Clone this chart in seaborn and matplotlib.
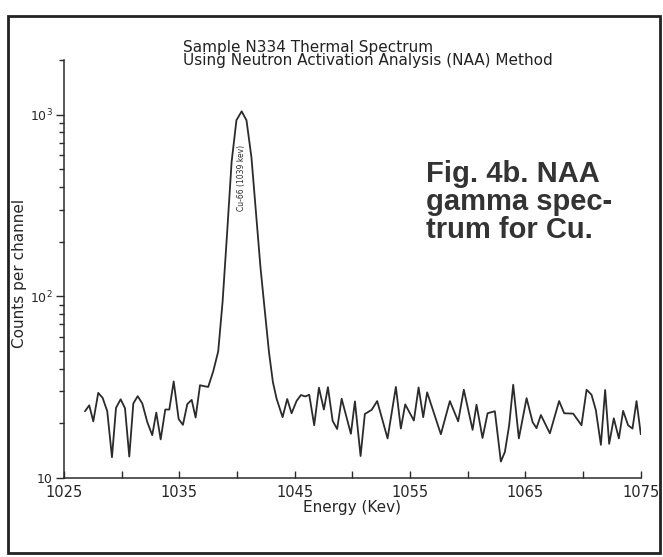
import matplotlib
matplotlib.use('Agg')
import matplotlib.pyplot as plt
import matplotlib.patches as patches
import seaborn as sns

# energy (keV) of each channel
energy = [1026.82, 1027.19, 1027.54, 1027.97, 1028.35, 1028.75, 1029.16, 1029.51, 1029.91, 1030.29,
          1030.66, 1031.01, 1031.39, 1031.79, 1032.22, 1032.65, 1033.00, 1033.38, 1033.78, 1034.13,
          1034.51, 1034.94, 1035.31, 1035.69, 1036.07, 1036.41, 1036.79, 1037.15, 1037.50, 1037.94,
          1038.37, 1038.75, 1039.13, 1039.53, 1039.95, 1040.40, 1040.82, 1041.25, 1041.64, 1042.03,
          1042.42, 1042.77, 1043.11, 1043.43, 1043.95, 1044.35, 1044.73, 1045.17, 1045.54, 1045.91,
          1046.26, 1046.69, 1047.10, 1047.53, 1047.88, 1048.29, 1048.68, 1049.07, 1049.87, 1050.22,
          1050.71, 1051.08, 1051.67, 1052.15, 1053.05, 1053.77, 1054.20, 1054.58, 1055.33, 1055.74,
          1056.14, 1056.48, 1057.67, 1058.45, 1059.17, 1059.66, 1060.42, 1060.76, 1061.28, 1061.72,
          1062.35, 1062.87, 1063.22, 1063.59, 1063.94, 1064.43, 1065.10, 1065.62, 1065.96, 1066.34,
          1067.12, 1067.92, 1068.36, 1069.14, 1069.86, 1070.30, 1070.73, 1071.10, 1071.54, 1071.91,
          1072.26, 1072.66, 1073.10, 1073.47, 1073.90, 1074.28, 1074.63, 1075.00]

counts = [23.3, 25.1, 20.5, 29.4, 27.6, 23.3, 13.0, 24.3, 27.1, 24.2,
          13.1, 25.7, 28.2, 25.7, 20.3, 17.2, 22.9, 16.3, 23.8, 23.8,
          34.0, 21.1, 19.6, 25.5, 26.9, 21.5, 32.4, 32.0, 31.7, 38.7,
          49.8, 93.6, 218, 550, 934, 1045, 933, 583, 291, 145,
          81.9, 49.3, 33.7, 27.3, 21.6, 27.2, 22.7, 26.6, 28.6, 28.1,
          28.7, 19.5, 31.4, 23.8, 31.6, 20.6, 18.6, 27.3, 17.5, 26.4,
          13.2, 22.5, 23.7, 26.5, 16.5, 31.7, 18.7, 25.4, 20.7, 31.5,
          21.6, 29.6, 17.4, 26.5, 20.5, 30.6, 18.4, 25.3, 16.6, 22.7,
          23.3, 12.3, 13.9, 19.5, 32.6, 16.5, 27.5, 20.3, 18.8, 22.2,
          17.6, 26.5, 22.7, 22.6, 19.5, 30.6, 28.7, 23.7, 15.2, 30.5,
          15.4, 21.3, 16.5, 23.4, 19.5, 18.7, 26.5, 17.4]

x_ticks = [1025, 1035, 1045, 1055, 1065, 1075]
x_minor = [1030, 1040, 1050, 1060, 1070]
y_ticks = [10, 100, 1000]
y_labels = ['10', '10$^2$', '10$^3$']

peak_label = 'Cu-66 (1039 kev)'
peak_pos = (1040.4, 450)

sns.set_style('ticks')
plt.rcParams['font.family'] = ['DejaVu Sans']

fig = plt.figure(figsize=(6.63, 5.57), dpi=100)
ax = fig.add_axes([0.0965, 0.142, 0.870, 0.750])

sns.lineplot(x=energy, y=counts, ax=ax, color='#2b2b2b', linewidth=1.3, estimator=None)

ax.set_yscale('log')
ax.set_xlim(1025, 1075)
ax.set_ylim(10, 2000)
ax.set_xticks(x_ticks)
ax.set_xticks(x_minor, minor=True)
ax.set_xticklabels([str(t) for t in x_ticks], fontsize=10.5)
ax.set_yticks(y_ticks)
ax.set_yticklabels(y_labels, fontsize=9)
ax.tick_params(axis='x', which='both', direction='in', length=5, width=1, color='#2b2b2b', pad=5)
ax.tick_params(axis='y', which='major', direction='out', length=6, width=1, color='#2b2b2b', pad=2)
ax.tick_params(axis='y', which='minor', direction='out', length=3.5, width=1, color='#2b2b2b')

ax.set_xlabel('Energy (Kev)', fontsize=11, labelpad=0)
ax.set_ylabel('Counts per channel', fontsize=11)
ax.yaxis.set_label_coords(-0.064, 0.49)

sns.despine(ax=ax)
for side in ['left', 'bottom']:
    ax.spines[side].set_linewidth(1.1)
    ax.spines[side].set_color('#2b2b2b')

ax.text(peak_pos[0], peak_pos[1], peak_label, rotation=90, fontsize=5.5,
        ha='center', va='center', color='#2b2b2b')

fig.text(0.276, 0.903, 'Sample N334 Thermal Spectrum\nUsing Neutron Activation Analysis (NAA) Method',
         fontsize=11, ha='left', va='center', linespacing=0.8, color='#222222')

fig.text(0.643, 0.712, 'Fig. 4b. NAA\ngamma spec-\ntrum for Cu.', fontsize=21,
         fontweight='bold', family=['Liberation Sans', 'DejaVu Sans'],
         ha='left', va='top', linespacing=1.0, color='#333333')

# box around the whole scanned figure
fig.patches.append(patches.Rectangle((0.012, 0.007), 0.984, 0.965, transform=fig.transFigure,
                                     fill=False, edgecolor='#222222', linewidth=2))

fig.savefig('out.png', dpi=100)
plt.close(fig)
